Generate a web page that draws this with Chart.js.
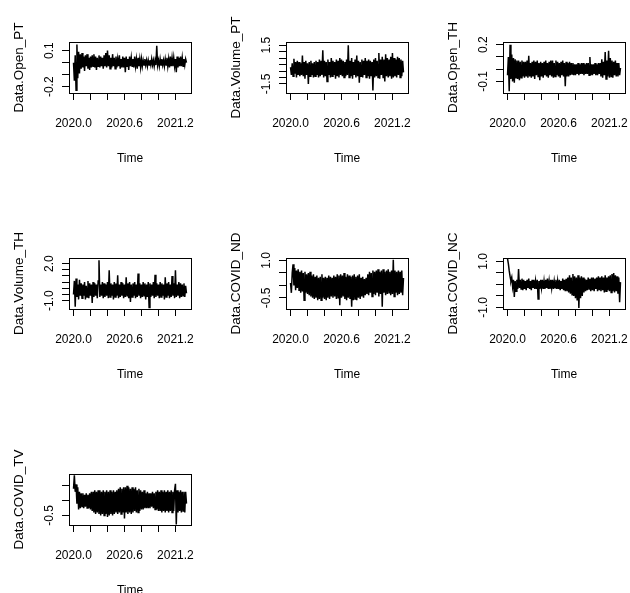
<!DOCTYPE html>
<html><head><meta charset="utf-8">
<script src="https://cdn.jsdelivr.net/npm/chart.js@4.4.0/dist/chart.umd.min.js"></script>
<style>
html,body{margin:0;padding:0;background:#fff;width:630px;height:593px;overflow:hidden;position:relative}
canvas{position:absolute}
</style></head><body>
<script>
// ---- time axis ----
const startTime = 2020.0;
const stepTime = 0.01;
const xTicks = [2020.0, 2020.2, 2020.4, 2020.6, 2020.8, 2021.0, 2021.2];
const xTickLabels = ['2020.0', '', '', '2020.6', '', '', '2021.2'];
const xTitle = 'Time';

// ---- series names ----
const seriesNames = ['Data.Open_PT', 'Data.Volume_PT', 'Data.Open_TH', 'Data.Volume_TH', 'Data.COVID_ND', 'Data.COVID_NC', 'Data.COVID_TV'];

// ---- series values ----
const openPT = [
0.00,-0.15,0.06,-0.23,0.15,-0.13,0.09,-0.09,0.07,-0.05,
0.08,-0.04,0.05,-0.07,0.06,-0.03,0.07,-0.05,0.04,-0.06,
0.05,-0.04,0.06,-0.03,0.07,-0.04,0.05,-0.06,0.04,-0.03,
0.06,-0.04,0.05,-0.03,0.04,-0.05,0.06,-0.03,0.08,-0.04,
0.10,-0.03,0.06,-0.05,0.04,-0.04,0.07,-0.03,0.04,-0.05,
0.05,-0.04,0.03,-0.03,0.06,-0.05,0.03,-0.04,0.05,-0.04,
0.04,-0.08,0.05,-0.03,0.03,-0.06,0.05,-0.03,0.04,-0.03,
0.03,-0.04,0.05,-0.03,0.03,-0.05,0.04,-0.03,0.03,-0.04,
0.03,-0.03,0.02,-0.02,0.03,-0.02,0.02,-0.03,0.02,-0.02,
0.02,-0.02,0.03,-0.02,0.02,-0.03,0.02,-0.02,0.14,-0.02,
0.02,-0.03,0.03,-0.02,0.03,-0.02,0.02,-0.03,0.03,-0.02,
0.04,-0.03,0.03,-0.04,0.05,-0.03,0.04,-0.03,0.04,-0.03,
0.03,-0.08,0.05,-0.04,0.04,-0.03,0.05,-0.03,0.04,-0.03,
0.03,-0.02,0.03,0.00];
const volumePT = [
-0.2,-0.8,0.1,-0.9,0.45,-0.7,0.2,-1.0,0.3,-0.8,
0.2,-0.9,0.1,-0.8,0.7,-0.9,0.2,-1.1,0.3,-0.8,
0.1,-1.5,0.2,-0.9,0.3,-0.8,0.1,-1.0,0.2,-0.9,
0.3,-0.8,0.2,-1.0,0.4,-0.9,0.3,-0.8,1.1,-1.0,
0.3,-0.9,0.2,-1.3,0.4,-0.8,0.2,-1.0,0.5,-0.9,
0.3,-0.8,0.2,-1.1,0.4,-0.9,0.3,-1.0,0.5,-0.8,
0.4,-0.9,0.3,-1.0,0.2,-0.9,0.4,-0.8,1.5,-1.0,
0.3,-0.9,0.5,-1.1,0.2,-0.8,0.4,-1.0,0.7,-0.9,
0.3,-1.4,0.2,-0.9,0.4,-1.0,0.3,-0.8,0.5,-1.0,
0.3,-0.9,0.4,-1.1,0.3,-0.9,0.2,-2.0,0.4,-1.0,
0.5,-0.9,0.3,-1.0,0.9,-1.1,0.4,-0.8,0.6,-1.0,
0.4,-1.3,0.8,-0.9,0.5,-1.0,0.4,-0.9,0.6,-1.1,
0.9,-1.0,0.5,-0.9,0.4,-1.0,0.6,-0.8,0.5,-1.0,
0.4,-0.9,0.3,-0.6];
const openTH = [
-0.05,0.10,-0.18,0.20,-0.08,0.12,-0.10,0.09,-0.11,0.08,
-0.07,0.07,-0.08,0.07,-0.09,0.06,-0.07,0.07,-0.06,0.06,
-0.07,0.06,-0.06,0.07,-0.07,0.11,-0.06,0.05,-0.07,0.06,
-0.06,0.07,-0.08,0.06,-0.05,0.07,-0.06,0.05,-0.09,0.06,
-0.06,0.05,-0.07,0.06,-0.05,0.07,-0.06,0.05,-0.07,0.06,
-0.05,0.07,-0.06,0.07,-0.07,0.05,-0.06,0.07,-0.05,0.06,
-0.06,0.05,-0.07,0.06,-0.05,0.07,-0.06,0.05,-0.14,0.06,
-0.06,0.05,-0.06,0.06,-0.05,0.05,-0.04,0.05,-0.05,0.04,
-0.05,0.04,-0.04,0.05,-0.05,0.04,-0.04,0.05,-0.04,0.05,
-0.05,0.04,-0.04,0.05,-0.04,0.05,-0.05,0.10,-0.05,0.04,
-0.05,0.04,-0.04,0.05,-0.05,0.04,-0.05,0.05,-0.04,0.05,
-0.06,0.08,-0.07,0.06,-0.05,0.14,-0.08,0.07,-0.06,0.15,
-0.07,0.09,-0.06,0.07,-0.07,0.06,-0.05,0.07,-0.06,0.05,
-0.06,0.05,-0.05,0.01];
const volumeTH = [
-0.5,0.6,-1.5,0.8,-0.7,0.3,-0.9,0.7,-0.6,0.4,
-0.8,0.3,-0.6,0.5,-0.9,0.2,-0.7,0.6,-0.8,0.4,
-0.6,0.3,-1.2,0.5,-0.7,0.4,-0.6,0.3,-0.8,0.6,
2.27,-0.7,0.3,-0.6,0.5,-0.8,0.4,-0.7,0.3,-0.6,
0.5,-0.8,1.46,-0.7,0.4,-0.6,0.3,-0.9,0.5,-0.7,
0.4,-0.6,1.05,-0.8,0.3,-0.7,0.5,-0.6,0.4,-0.8,
0.3,-0.7,0.9,-0.6,0.4,-0.8,0.5,-1.1,0.3,-0.7,
0.4,-0.6,0.5,-0.8,0.3,-0.7,1.2,-0.6,0.4,-0.8,
0.3,-0.7,0.5,-0.6,0.4,-0.9,0.3,-0.7,0.5,-1.55,
0.4,-0.7,0.3,-0.6,0.5,-0.8,1.1,-0.7,0.4,-0.6,
0.3,-0.8,0.5,-0.7,0.4,-0.6,0.3,-0.9,0.9,-0.7,
0.4,-0.6,0.5,-0.8,0.3,-0.7,1.0,-0.6,0.4,-0.8,
1.46,-0.7,0.3,-0.6,0.5,-0.8,0.4,-0.7,0.3,-0.6,
0.4,-0.7,0.2,-0.4];
const covidND = [
0.1,-0.3,0.5,0.85,0.0,0.7,-0.2,0.6,-0.1,0.65,
-0.2,0.55,-0.3,0.6,-0.25,0.5,-0.6,0.55,-0.3,0.45,
-0.35,0.5,-0.4,0.55,-0.45,0.4,-0.5,0.45,-0.55,0.35,
-0.5,0.4,-0.6,0.3,-0.55,0.35,-0.6,0.45,-0.5,0.3,
-0.55,0.35,-0.6,0.3,-0.5,0.4,-0.55,0.35,-0.45,0.3,
-0.5,0.4,-0.45,0.35,-0.55,0.45,-0.5,0.4,-0.8,0.45,
-0.5,0.4,-0.45,0.5,-0.55,0.35,-0.6,0.45,-0.5,0.4,
-0.55,0.35,-0.86,0.4,-0.6,0.45,-0.55,0.35,-0.6,0.4,
-0.5,0.45,-0.55,0.3,-0.45,0.35,-0.5,0.25,-0.4,0.3,
-0.35,0.45,-0.4,0.55,-0.3,0.5,-0.45,0.6,-0.35,0.55,
-0.4,0.6,-0.3,0.65,-0.45,0.55,-0.35,0.6,-0.86,0.65,
-0.3,0.55,-0.4,0.6,-0.35,0.65,-0.3,0.55,-0.4,0.6,
-0.35,1.03,-0.45,0.6,-0.3,0.55,-0.4,0.6,-0.35,0.55,
-0.3,0.6,-0.4,0.3];
const covidNC = [
1.12,0.9,0.6,0.35,0.15,0.3,-0.1,0.2,-0.55,0.15,
-0.3,0.2,-0.2,0.67,-0.15,0.2,-0.2,0.25,-0.25,0.2,
-0.2,0.15,-0.25,0.2,-0.15,0.25,-0.2,0.15,-0.25,0.2,
-0.15,0.2,-0.2,0.15,-0.2,0.2,-0.64,0.15,-0.2,0.2,
-0.15,0.2,-0.2,0.15,-0.2,0.2,-0.15,0.25,-0.2,0.15,
-0.2,0.2,-0.15,0.2,-0.2,0.15,-0.15,0.2,-0.2,0.15,
-0.2,0.2,-0.25,0.15,-0.2,0.25,-0.25,0.2,-0.3,0.25,
-0.3,0.3,-0.35,0.4,-0.4,0.3,-0.45,0.45,-0.5,0.35,
-0.6,0.3,-0.7,0.4,-1.03,0.3,-0.6,0.35,-0.5,0.3,
-0.35,0.25,-0.3,0.2,-0.25,0.3,-0.2,0.25,-0.3,0.3,
-0.25,0.3,-0.3,0.25,-0.2,0.3,-0.3,0.35,-0.25,0.3,
-0.3,0.35,-0.25,0.3,-0.35,0.4,-0.3,0.3,-0.25,0.35,
-0.3,0.4,-0.35,0.45,-0.3,0.5,-0.35,0.4,-0.3,0.35,
-0.4,0.3,-0.77,0.1];
const covidTV = [
0.40,0.86,0.30,0.55,-0.10,0.45,-0.30,0.30,-0.25,0.25,
-0.20,0.25,-0.25,0.20,-0.20,0.25,-0.25,0.20,-0.25,0.25,
-0.30,0.30,-0.35,0.30,-0.40,0.35,-0.45,0.30,-0.40,0.35,
-0.45,0.35,-0.50,0.30,-0.45,0.35,-0.50,0.30,-0.45,0.35,
-0.55,0.30,-0.50,0.35,-0.45,0.30,-0.50,0.35,-0.45,0.30,
-0.40,0.35,-0.45,0.40,-0.40,0.45,-0.45,0.40,-0.40,0.45,
-0.60,0.45,-0.40,0.50,-0.45,0.45,-0.40,0.40,-0.45,0.45,
-0.40,0.40,-0.35,0.45,-0.40,0.35,-0.40,0.40,-0.35,0.35,
-0.30,0.30,-0.30,0.35,-0.25,0.25,-0.25,0.30,-0.25,0.25,
-0.25,0.25,-0.20,0.30,-0.25,0.25,-0.30,0.30,-0.30,0.35,
-0.35,0.30,-0.35,0.35,-0.40,0.30,-0.35,0.35,-0.40,0.30,
-0.35,0.35,-0.40,0.30,-0.35,0.35,-0.40,0.30,-0.35,0.35,
0.57,-0.80,0.35,-0.40,0.30,-0.35,0.35,-0.40,0.30,-0.35,
0.30,-0.40,0.30,-0.10];

// ---- y tick values and labels ----
const yTicksOpenPT = [-0.2, -0.1, 0.0, 0.1];
const yLabelsOpenPT = ['-0.2', '', '', '0.1'];
const yTicksVolumePT = [-1.5, -1.0, -0.5, 0.0, 0.5, 1.0, 1.5];
const yLabelsVolumePT = ['-1.5', '', '', '', '', '', '1.5'];
const yTicksOpenTH = [-0.1, 0.0, 0.1, 0.2];
const yLabelsOpenTH = ['-0.1', '', '', '0.2'];
const yTicksVolumeTH = [-1.0, -0.5, 0.0, 0.5, 1.0, 1.5, 2.0];
const yLabelsVolumeTH = ['-1.0', '', '', '', '', '', '2.0'];
const yTicksCovidND = [-0.5, 0.0, 0.5, 1.0];
const yLabelsCovidND = ['-0.5', '', '', '1.0'];
const yTicksCovidNC = [-1.0, -0.5, 0.0, 0.5, 1.0];
const yLabelsCovidNC = ['-1.0', '', '', '', '1.0'];
const yTicksCovidTV = [-0.5, 0.0, 0.5];
const yLabelsCovidTV = ['-0.5', '', ''];

// ---- axis limits ----
const yLimitsOpenPT = [-0.252, 0.171];
const yLimitsVolumePT = [-2.2, 1.75];
const yLimitsOpenTH = [-0.195, 0.222];
const yLimitsVolumeTH = [-1.68, 2.46];
const yLimitsCovidND = [-0.95, 1.1];
const yLimitsCovidNC = [-1.07, 1.15];
const yLimitsCovidTV = [-0.82, 0.9];

const seriesValues = [openPT, volumePT, openTH, volumeTH, covidND, covidNC, covidTV];
const yTickSets = [yTicksOpenPT, yTicksVolumePT, yTicksOpenTH, yTicksVolumeTH, yTicksCovidND, yTicksCovidNC, yTicksCovidTV];
const yLabelSets = [yLabelsOpenPT, yLabelsVolumePT, yLabelsOpenTH, yLabelsVolumeTH, yLabelsCovidND, yLabelsCovidNC, yLabelsCovidTV];
const yLimitSets = [yLimitsOpenPT, yLimitsVolumePT, yLimitsOpenTH, yLimitsVolumeTH, yLimitsCovidND, yLimitsCovidNC, yLimitsCovidTV];

// ---- layout ----
const colLeft = [69, 286, 503];
const rowTop = [42, 258, 474];
const boxW = 122, boxH = 51;
const yAxisW = 69, topPad = 40, xAxisH = 80, rightPad = 30;
const FONT = 'Liberation Sans, Arial, sans-serif';
const tickFontSize = 12, xTitleFontSize = 12, yTitleFontSize = 13.5;

const measureCtx = document.createElement('canvas').getContext('2d');
measureCtx.font = tickFontSize + 'px ' + FONT;

const boxPlugin = {
  id: 'rbox',
  afterDraw(chart) {
    const a = chart.chartArea, ctx = chart.ctx;
    ctx.save();
    ctx.strokeStyle = '#000';
    ctx.lineWidth = 1;
    ctx.strokeRect(Math.round(a.left) + 0.5, Math.round(a.top) + 0.5, Math.round(a.right - a.left), Math.round(a.bottom - a.top));
    ctx.restore();
  }
};

const lastTime = startTime + stepTime * (openPT.length - 1);
const xPad = 0.04 * (lastTime - startTime);

seriesValues.forEach((vals, k) => {
  const col = k % 3, row = Math.floor(k / 3);
  const cv = document.createElement('canvas');
  const W = yAxisW + boxW + rightPad, H = topPad + boxH + xAxisH;
  cv.width = W; cv.height = H;
  cv.style.left = (colLeft[col] - yAxisW) + 'px';
  cv.style.top = (rowTop[row] - topPad) + 'px';
  cv.style.width = W + 'px'; cv.style.height = H + 'px';
  document.body.appendChild(cv);

  const labels = yLabelSets[k];
  const widest = Math.max(...labels.map(s => measureCtx.measureText(s).width));
  const yPadding = 19 - 7 - widest / 2;

  new Chart(cv, {
    type: 'line',
    data: {
      datasets: [{
        data: vals.map((v, i) => ({x: startTime + i * stepTime, y: v})),
        borderColor: '#000', borderWidth: 1.5, pointRadius: 0, tension: 0, fill: false,
        borderJoinStyle: 'miter'
      }]
    },
    options: {
      responsive: false, animation: false, devicePixelRatio: 1,
      layout: {padding: {left: 0, top: topPad, right: rightPad, bottom: 0}},
      plugins: {legend: {display: false}, tooltip: {enabled: false}},
      scales: {
        x: {
          type: 'linear', position: 'bottom',
          min: startTime - xPad, max: lastTime + xPad,
          afterBuildTicks: s => { s.ticks = xTicks.map(v => ({value: v})); },
          afterFit: s => { s.height = xAxisH; },
          ticks: {
            autoSkip: false, maxRotation: 0, minRotation: 0, padding: 16.8,
            color: '#000', font: {family: FONT, size: tickFontSize},
            callback: (v, i) => xTickLabels[i]
          },
          grid: {drawOnChartArea: false, drawTicks: true, tickLength: 7, color: '#000', lineWidth: 1},
          border: {display: true, color: '#000', width: 1},
          title: {display: true, text: xTitle, color: '#000', font: {family: FONT, size: xTitleFontSize}, padding: {top: 0, bottom: 6.8}}
        },
        y: {
          type: 'linear', position: 'left',
          min: yLimitSets[k][0], max: yLimitSets[k][1],
          afterBuildTicks: s => { s.ticks = yTickSets[k].map(v => ({value: v})); },
          afterFit: s => { s.width = yAxisW; },
          ticks: {
            autoSkip: false, minRotation: 90, maxRotation: 90, crossAlign: 'center', padding: yPadding,
            color: '#000', font: {family: FONT, size: tickFontSize},
            callback: (v, i) => labels[i]
          },
          grid: {drawOnChartArea: false, drawTicks: true, tickLength: 7, color: '#000', lineWidth: 1},
          border: {display: true, color: '#000', width: 1},
          title: {display: true, text: seriesNames[k], color: '#000', font: {family: FONT, size: yTitleFontSize}, padding: {top: 11, bottom: 0}}
        }
      }
    },
    plugins: [boxPlugin]
  });
});
</script>
</body></html>
